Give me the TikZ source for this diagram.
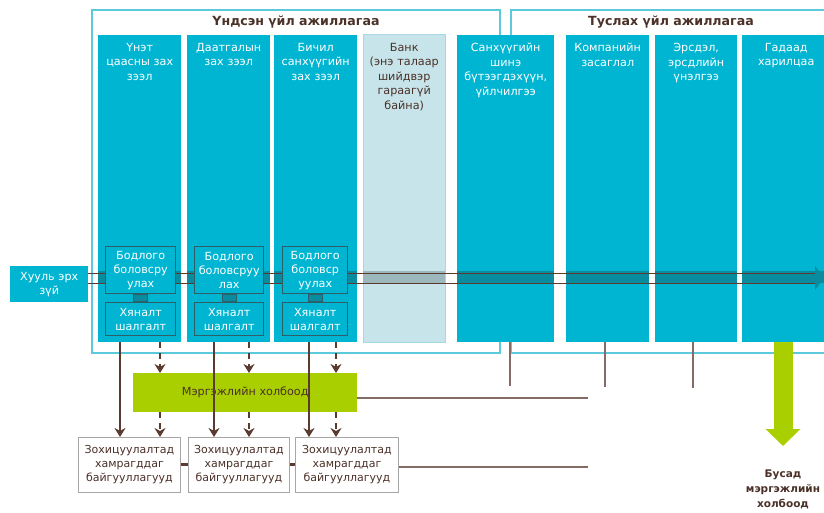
\documentclass[tikz,border=0pt]{standalone}
\usepackage{fontspec}
\setmainfont{DejaVu Sans}
\usetikzlibrary{arrows.meta}

\definecolor{colcyan}{HTML}{00B5D2}
\definecolor{bankcol}{HTML}{C6E4E9}
\definecolor{bankedge}{HTML}{A6D8E1}
\definecolor{framecol}{HTML}{5CC9DD}
\definecolor{bandcol}{HTML}{0A8CA0}
\definecolor{bandgray}{HTML}{9DB8BC}
\definecolor{inneredge}{HTML}{2C5F68}
\definecolor{brownline}{HTML}{5B3A2F}
\definecolor{darktext}{HTML}{4B3128}
\definecolor{greencol}{HTML}{A9CF00}

\begin{document}
\begin{tikzpicture}[x=1pt,y=-1pt,
   col/.style={fill=#1, anchor=north west, inner sep=0, minimum height=307pt},
   coltext/.style={anchor=north, inner sep=0, align=center, font=\fontsize{11.2}{14.5}\selectfont},
   frame/.style={draw=framecol, line width=1.6pt},
   title/.style={font=\fontsize{12.6}{14}\selectfont\bfseries, text=darktext},
   inbox/.style={draw=inneredge, line width=1.4pt, fill=colcyan, text=white, align=center,
      inner sep=0, minimum width=#1, font=\fontsize{11.2}{14}\selectfont},
   orgbox/.style={draw=gray!70, line width=0.8pt, fill=white, text=darktext, align=center,
      anchor=north west, inner sep=0, minimum height=55pt, font=\fontsize{11}{14}\selectfont},
   solidarrow/.style={draw=brownline, line width=2.6pt, -{Stealth[length=9pt,width=11pt]}},
   dasharrow/.style={draw=brownline, line width=2.6pt, dash pattern=on 6pt off 5pt,
      -{Stealth[length=9pt,width=11pt]}},
   fadeline/.style={draw=brownline!75, line width=2.6pt}]
   % Picture size
   \useasboundingbox (0,0) rectangle (824,513);
   % Frames of the two groups
   \draw[frame] (92,10) rectangle (500,353);
   \draw[frame] (511,10) rectangle (830,353);
   \node[title] (tmain) at (296,22) {Үндсэн үйл ажиллагаа};
   \node[title] (taux) at (671,22) {Туслах үйл ажиллагаа};
   % Columns
   \foreach \n/\xa/\w/\fc/\tc/\txt in {
      c1/98/83/colcyan/white/{Үнэт\\цаасны зах\\зээл},
      c2/187/83/colcyan/white/{Даатгалын\\зах зээл},
      c3/274/83/colcyan/white/{Бичил\\санхүүгийн\\зах зээл},
      c4/363/82/bankcol/darktext/{Банк\\(энэ талаар\\шийдвэр\\гараагүй\\байна)},
      c5/457/97/colcyan/white/{Санхүүгийн\\шинэ\\бүтээгдэхүүн,\\үйлчилгээ},
      c6/566/83/colcyan/white/{Компанийн\\засаглал},
      c7/655/82/colcyan/white/{Эрсдэл,\\эрсдлийн\\үнэлгээ},
      c8/742/88/colcyan/white/{Гадаад\\харилцаа}} {
      \node[col=\fc, minimum width=\w pt] (\n) at (\xa,35) {};
      \node[coltext, text=\tc, text width=\w pt-2pt] at ([yshift=-8pt]\n.north) {\txt};
      \fill[bandcol] (\xa,271) rectangle ++(\w,12);
   }
   \draw[bankedge, line width=1pt] (c4.north west) rectangle (c4.south east);
   \fill[bandgray] (363,271) rectangle ++(82,12);
   % Law and its line through all columns
   \node[fill=colcyan, text=white, align=center, anchor=north west, inner sep=0,
      minimum width=78pt, minimum height=36pt, font=\fontsize{11.2}{14}\selectfont]
      (law) at (10,266) {Хууль эрх\\зүй};
   \coordinate (endup) at (816,273);
   \coordinate (endlow) at (816,283);
   \draw[brownline, line width=1pt] (law.east |- endup) -- (endup);
   \draw[brownline, line width=1pt] (law.east |- endlow) -- (endlow);
   \fill[bandcol] (815,266) -- (824,278) -- (815,290) -- cycle;
   % Policy and control boxes
   \node[inbox=70pt, minimum height=47pt, anchor=north west] (b1) at (105,246) {Бодлого\\боловсру\\улах};
   \node[inbox=69pt, minimum height=47pt, anchor=north west] (b2) at (194,246) {Бодлого\\боловсруу\\лах};
   \node[inbox=65pt, minimum height=47pt, anchor=north west] (b3) at (282,246) {Бодлого\\боловср\\уулах};
   \node[inbox=70pt, minimum height=33pt, anchor=north west] (h1) at (105,302) {Хяналт\\шалгалт};
   \node[inbox=69pt, minimum height=33pt, anchor=north west] (h2) at (194,302) {Хяналт\\шалгалт};
   \node[inbox=65pt, minimum height=33pt, anchor=north west] (h3) at (282,302) {Хяналт\\шалгалт};
   \foreach \i in {1,2,3}
      \draw[inneredge, line width=1.2pt, fill=bandcol] ([xshift=-7pt]b\i.south) rectangle ([xshift=7pt]h\i.north);
   % Professional associations and regulated organisations
   \node[fill=greencol, text=darktext, anchor=north west, minimum width=224pt, minimum height=39pt,
      inner sep=0, font=\fontsize{11.2}{14}\selectfont] (green) at (133,373) {Мэргэжлийн холбоод};
   \node[orgbox, minimum width=102pt] (z1) at (78,437) {Зохицуулалтад\\хамрагддаг\\байгууллагууд};
   \node[orgbox, minimum width=101pt] (z2) at (188,437) {Зохицуулалтад\\хамрагддаг\\байгууллагууд};
   \node[orgbox, minimum width=103pt] (z3) at (295,437) {Зохицуулалтад\\хамрагддаг\\байгууллагууд};
   \draw[brownline, line width=3pt] (z1.east) -- (z2.west);
   \draw[brownline, line width=3pt] (z2.east) -- (z3.west);
   % Arrows down from the main columns
   \foreach \i/\s/\d in {1/22/62,2/27/62,3/35/62} {
      \draw[solidarrow] ([xshift=\s pt]c\i.south west) -- ([xshift=\s pt]c\i.south west |- z\i.north);
      \draw[dasharrow] ([xshift=\d pt]c\i.south west) -- ([xshift=\d pt]c\i.south west |- green.north);
      \draw[dasharrow] ([xshift=\d pt]c\i.south west |- green.south) -- ([xshift=\d pt]c\i.south west |- z\i.north);
   }
   % Lines to the right
   \coordinate (gend) at (588,398);
   \coordinate (zend) at (588,467);
   \draw[fadeline] (green.east |- gend) -- (gend);
   \draw[fadeline] (z3.east |- zend) -- (zend);
   \coordinate (s5) at (510,386);
   \coordinate (s6) at (605,387);
   \coordinate (s7) at (693,388);
   \foreach \i in {5,6,7}
      \draw[brownline!75, line width=2.4pt] (s\i |- c\i.south) -- (s\i);
   % Other associations
   \coordinate (greentip) at (783,446);
   \draw[greencol, line width=19pt, -{Triangle[length=17pt,width=34pt]}] (greentip |- c8.south) -- (greentip);
   \node[font=\fontsize{10.5}{15}\selectfont\bfseries, text=darktext, align=center, anchor=north]
      (other) at (783,466) {Бусад\\мэргэжлийн\\холбоод};
\end{tikzpicture}
\end{document}
